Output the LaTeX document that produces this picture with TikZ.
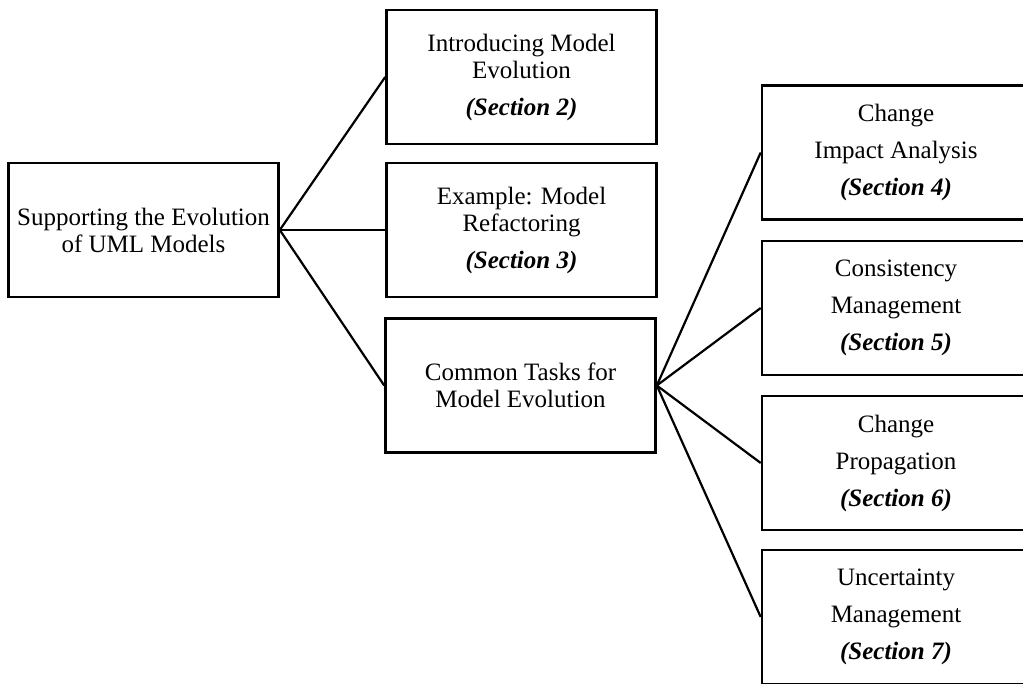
\documentclass[tikz,border=0pt]{standalone}
\usepackage{fontspec}
\setmainfont{Liberation Serif}
\begin{document}
\begin{tikzpicture}[x=1pt,y=1pt,
  box/.style={draw=black,line width=2.6pt,rectangle,inner sep=0pt,align=center,
    font=\fontsize{25}{27}\selectfont},
  lbox/.style={box,minimum width=270pt,minimum height=134pt},
  rbox/.style={box,minimum width=268pt,minimum height=134pt,font=\fontsize{25}{37}\selectfont},
  link/.style={line width=2.2pt}]
\useasboundingbox (0,0) rectangle (1023,683);
\clip (0,0) rectangle (1023,683);
\node[lbox] (root) at (143.5,453) {Supporting the Evolution\\of UML Models};
\node[lbox] (intro) at (521.5,606) {Introducing Model\\Evolution\\[10pt]\textbf{\textit{(Section 2)}}};
\node[lbox] (ex) at (521.5,453) {Example: Model\\Refactoring\\[10pt]\textbf{\textit{(Section 3)}}};
\node[lbox] (common) at (520.5,297.5) {Common Tasks for\\Model Evolution};
\node[rbox] (cia) at (896,530.5) {Change\\Impact Analysis\\\textbf{\textit{(Section 4)}}};
\node[rbox] (cm) at (896,375) {Consistency\\Management\\\textbf{\textit{(Section 5)}}};
\node[rbox] (cp) at (896,220) {Change\\Propagation\\\textbf{\textit{(Section 6)}}};
\node[rbox] (um) at (896,66) {Uncertainty\\Management\\\textbf{\textit{(Section 7)}}};
\draw[link] (root.east) -- (intro.west);
\draw[link] (root.east) -- (ex.west);
\draw[link] (root.east) -- (common.west);
\draw[link] (common.east) -- (cia.west);
\draw[link] (common.east) -- (cm.west);
\draw[link] (common.east) -- (cp.west);
\draw[link] (common.east) -- (um.west);
\end{tikzpicture}
\end{document}
